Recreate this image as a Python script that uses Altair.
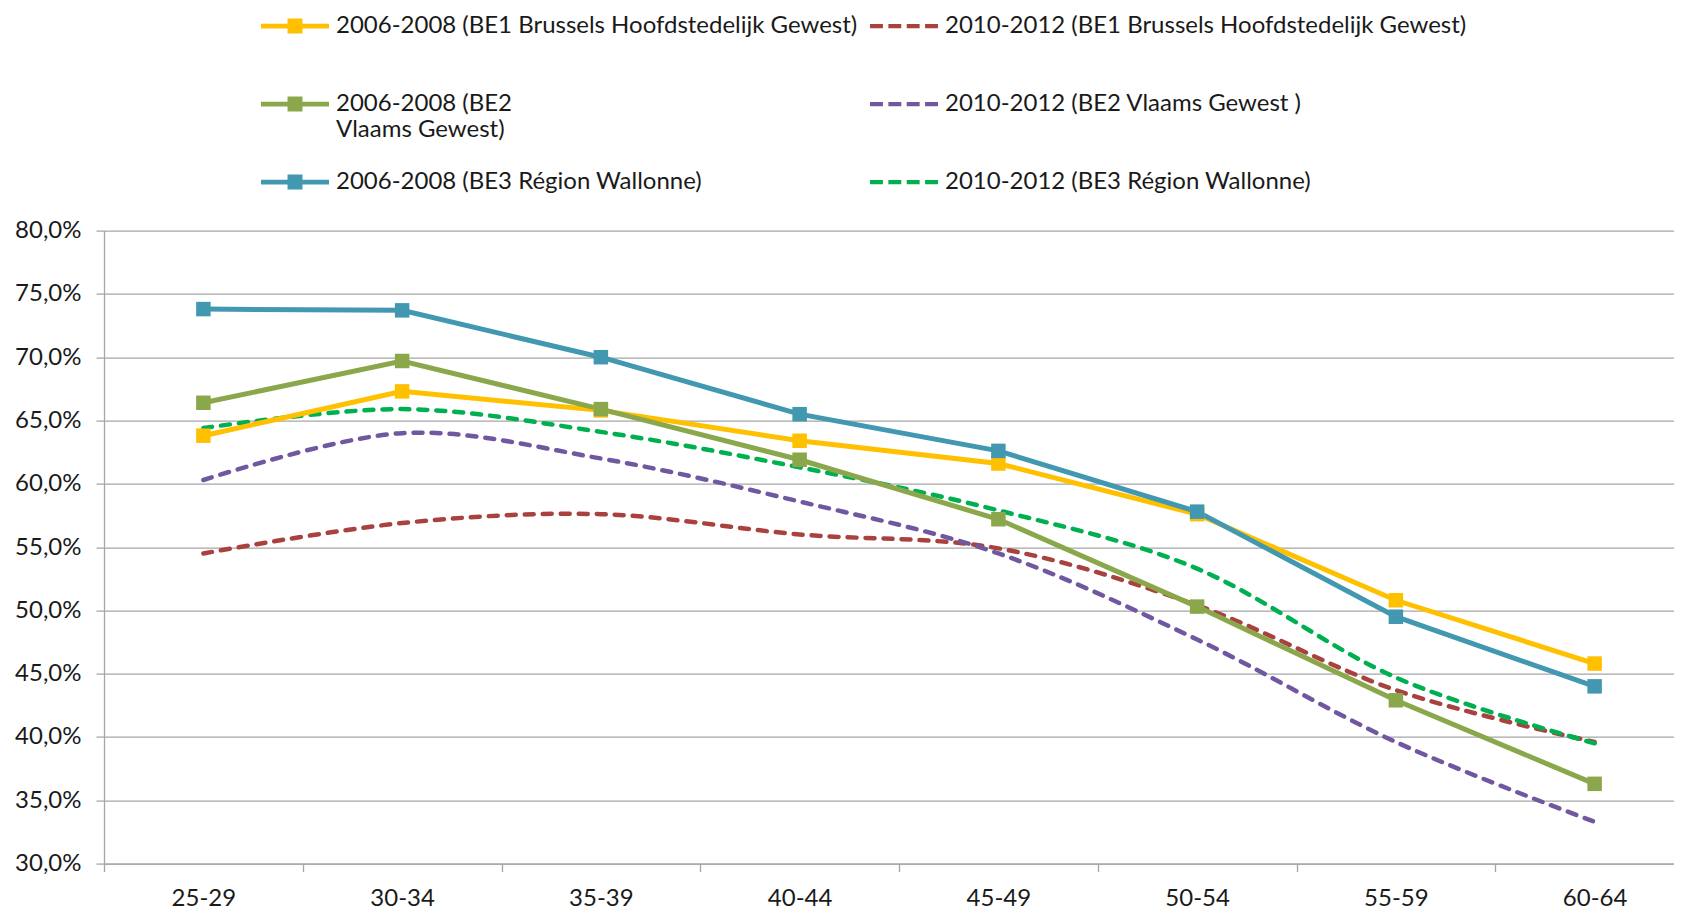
import altair as alt
import pandas as pd

ages = ["25-29", "30-34", "35-39", "40-44", "45-49", "50-54", "55-59", "60-64"]

series_names = [
    "2006-2008 (BE1 Brussels Hoofdstedelijk Gewest)",
    "2010-2012 (BE1 Brussels Hoofdstedelijk Gewest)",
    "2006-2008 (BE2 Vlaams Gewest)",
    "2010-2012 (BE2 Vlaams Gewest )",
    "2006-2008 (BE3 Région Wallonne)",
    "2010-2012 (BE3 Région Wallonne)",
]
series_colors = ["#FFC000", "#A9423F", "#8AA84B", "#7058A0", "#4198B0", "#00B050"]

be1_2006 = [63.8, 67.3, 65.8, 63.4, 61.6, 57.6, 50.8, 45.8]
be1_2010 = [54.5, 56.9, 57.6, 56.0, 54.9, 50.4, 43.7, 39.6]
be2_2006 = [66.4, 69.7, 65.9, 61.9, 57.2, 50.3, 42.9, 36.3]
be2_2010 = [60.3, 64.0, 62.0, 58.6, 54.5, 47.7, 39.6, 33.3]
be3_2006 = [73.8, 73.7, 70.0, 65.5, 62.6, 57.8, 49.5, 44.0]
be3_2010 = [64.4, 65.9, 64.1, 61.3, 57.9, 53.3, 44.7, 39.5]

values_by_series = [be1_2006, be1_2010, be2_2006, be2_2010, be3_2006, be3_2010]

rows = []
for name, vals in zip(series_names, values_by_series):
    for a, v in zip(ages, vals):
        rows.append({"age": a, "value": v, "series": name,
                     "period": name[:9]})
df = pd.DataFrame(rows)

FONT = "Lato"
GRID = "#A6A6A6"
TXT = "#1a1a1a"

solid_path = "M-1,-0.07H1V0.07H-1Z M-0.22,-0.22H0.22V0.22H-0.22Z"
dash_path = ("M-1,-0.065H-0.62V0.065H-1Z M-0.46,-0.065H-0.08V0.065H-0.46Z "
             "M0.08,-0.065H0.46V0.065H0.08Z M0.62,-0.065H1V0.065H0.62Z")
shape_range = [solid_path, dash_path] * 3

color_scale = alt.Scale(domain=series_names, range=series_colors)
color_nolegend = alt.Color("series:N", scale=color_scale, legend=None)

x_enc = alt.X("age:N", sort=ages, title=None,
              scale=alt.Scale(paddingInner=0, paddingOuter=0, range=[0, 1590]),
              axis=alt.Axis(labelAngle=0, tickBand="extent", grid=False,
                            domainColor=GRID, tickColor=GRID, tickSize=8,
                            labelPadding=15, labelFont=FONT, labelFontSize=24,
                            labelColor=TXT, domainWidth=1.3, tickWidth=1.3))
y_enc = alt.Y("value:Q", title=None,
              scale=alt.Scale(domain=[30, 80], nice=False, zero=False),
              axis=alt.Axis(values=[30, 35, 40, 45, 50, 55, 60, 65, 70, 75, 80],
                            labelExpr="replace(format(datum.value, '.1f'), '.', ',') + '%'",
                            grid=True, gridColor=GRID, gridWidth=1.3,
                            domainColor=GRID, tickColor=GRID, tickSize=8,
                            domainWidth=1.3, tickWidth=1.3,
                            labelPadding=15, labelFont=FONT, labelFontSize=24,
                            labelColor=TXT))

base = alt.Chart(df)

# the BE2 2006-2008 label wraps onto two lines; the others keep an empty
# second line so that every legend row has the same height
label_expr = ("datum.label == '2006-2008 (BE2 Vlaams Gewest)' ? "
              "['2006-2008 (BE2', 'Vlaams Gewest)'] : [datum.label, '']")

legend_props = dict(
    title=None, orient="none", legendX=157, legendY=-238.5,
    columns=2, direction="horizontal",
    columnPadding=12, rowPadding=6,
    symbolSize=4624, symbolStrokeWidth=0, labelOffset=7,
    labelFont=FONT, labelFontSize=24, labelColor=TXT,
    labelLimit=800, labelExpr=label_expr, padding=0, symbolOpacity=1,
)

# layer that only carries the legend (draws no marks)
legend_carrier = base.transform_filter("false").mark_point(
    filled=True, opacity=1
).encode(
    x=x_enc, y=y_enc,
    color=alt.Color("series:N", scale=color_scale, legend=alt.Legend(**legend_props)),
    shape=alt.Shape("series:N",
                    scale=alt.Scale(domain=series_names, range=shape_range),
                    legend=alt.Legend(**legend_props)),
)

dashed = base.transform_filter("datum.period == '2010-2012'").mark_line(
    strokeWidth=4.5, strokeDash=[9, 9], strokeCap="round", interpolate="cardinal"
).encode(x=x_enc, y=y_enc, color=color_nolegend)

solid = base.transform_filter("datum.period == '2006-2008'").mark_line(
    strokeWidth=5
).encode(x=x_enc, y=y_enc, color=color_nolegend)

squares = base.transform_filter("datum.period == '2006-2008'").mark_square(
    size=210, opacity=1
).encode(x=x_enc, y=y_enc, color=color_nolegend)

chart = alt.layer(legend_carrier, dashed, solid, squares).properties(
    width=1570, height=633,
    autosize=alt.AutoSizeParams(type="none"),
    padding={"left": 96, "top": 222.6, "right": 0, "bottom": 48},
    background="white",
).configure_view(stroke=None)

chart.save("out.html", embed_options={"renderer": "svg", "actions": False})
